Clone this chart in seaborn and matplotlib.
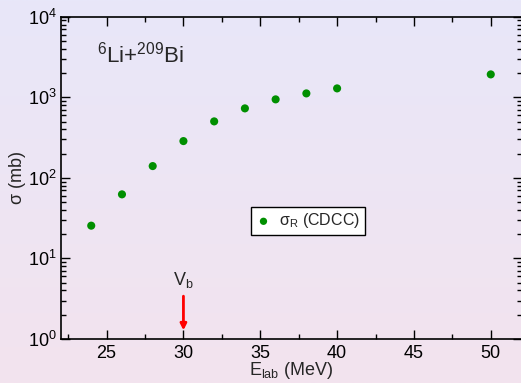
import numpy as np
import matplotlib
matplotlib.use("Agg")
import matplotlib.pyplot as plt
import seaborn as sns
import pandas as pd
from matplotlib.ticker import LogLocator, MultipleLocator, NullFormatter
from matplotlib.colors import LinearSegmentedColormap

# Data
energy = [24, 26, 28, 30, 32, 34, 36, 38, 40, 50]
sigma_r = [25.5, 62.4, 140, 286, 502, 728, 942, 1117, 1289, 1923]
series_label = r"$\sigma_{R}$ (CDCC)"
barrier_energy = 30

sns.set_style("ticks")
plt.rcParams["font.family"] = ["Liberation Sans", "DejaVu Sans"]
plt.rcParams["mathtext.fontset"] = "custom"
plt.rcParams["mathtext.rm"] = "Liberation Sans"
plt.rcParams["mathtext.it"] = "Liberation Sans"
plt.rcParams["mathtext.default"] = "regular"

fig = plt.figure(figsize=(5.21, 3.83), dpi=100)

# gradient background
bg = fig.add_axes([0, 0, 1, 1], zorder=-10)
cmap = LinearSegmentedColormap.from_list("bg", ["#E8E7F9", "#F3E3EE"])
grad = np.linspace(0, 1, 256).reshape(-1, 1)
bg.imshow(grad, aspect="auto", cmap=cmap, extent=[0, 1, 0, 1], origin="upper")
bg.axis("off")

ax = fig.add_axes([60.5 / 521, 44 / 383, 461 / 521, 322.3 / 383])
ax.set_facecolor("none")

df = pd.DataFrame({"E": energy, "sigma": sigma_r})
sns.scatterplot(data=df, x="E", y="sigma", ax=ax, color="#008F00", s=34,
                edgecolor="none", label=series_label, zorder=3)

ax.set_yscale("log")
ax.set_xlim(22, 52)
ax.set_ylim(1, 1e4)
ax.xaxis.set_major_locator(MultipleLocator(5))
ax.xaxis.set_minor_locator(MultipleLocator(2.5))
ax.yaxis.set_major_locator(LogLocator(base=10, numticks=10))
ax.yaxis.set_minor_locator(LogLocator(base=10, subs=np.arange(2, 10), numticks=20))
ax.yaxis.set_minor_formatter(NullFormatter())

ax.tick_params(which="both", direction="in", top=True, right=True, labelsize=13,
               colors="black")
ax.tick_params(axis="x", pad=4)
ax.tick_params(axis="y", pad=2.5)
ax.tick_params(which="major", length=6.7, width=1)
ax.tick_params(which="minor", length=3.4, width=1)
for s in ax.spines.values():
    s.set_linewidth(1.2)
    s.set_color("black")

ax.set_xlabel(r"E$_{lab}$ (MeV)", fontsize=13, labelpad=-1)
ax.set_ylabel(r"$\sigma$ (mb)", fontsize=13, labelpad=0)

ax.text(0.079, 0.859, r"$^{6}$Li+$^{209}$Bi", transform=ax.transAxes,
        fontsize=16, ha="left", va="baseline")

ax.annotate("", xy=(barrier_energy, 1.28), xytext=(barrier_energy, 3.4),
            arrowprops=dict(arrowstyle="-|>", color="red", lw=2,
                            mutation_scale=9, shrinkA=0, shrinkB=0))
ax.text(barrier_energy, 4.7, r"V$_{b}$", ha="center", va="baseline", fontsize=13)

leg = ax.legend(loc="upper left", bbox_to_anchor=(0.4126, 0.4105), borderaxespad=0,
                frameon=True, fancybox=False, fontsize=11.5, handletextpad=0.5,
                borderpad=0.3, handlelength=1.0, markerscale=0.9)
leg.get_frame().set_edgecolor("black")
leg.get_frame().set_linewidth(1.0)
leg.get_frame().set_facecolor("white")
leg.get_frame().set_alpha(1)

fig.savefig("out.png", dpi=100)
